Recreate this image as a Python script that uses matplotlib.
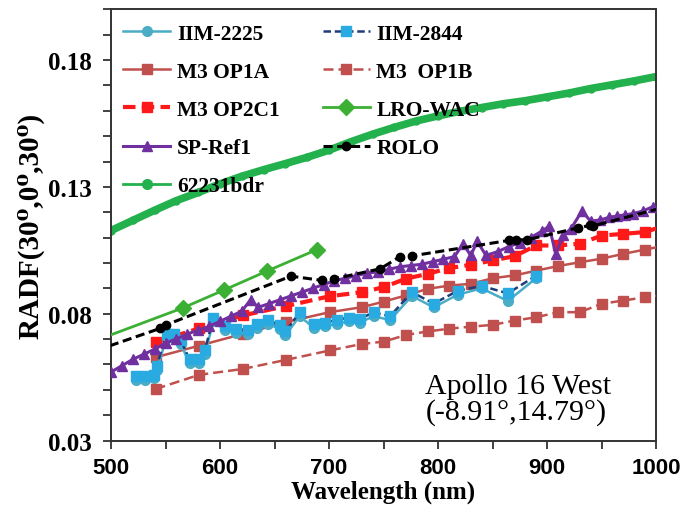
from matplotlib import pyplot as plt
from matplotlib.lines import Line2D
from matplotlib.ticker import MultipleLocator, FixedLocator

# IIM spectra (Chandrayaan-1 HySI)
iim_wl = [523, 531, 539, 542, 551, 558, 564, 572, 581, 586, 594, 605, 615, 626, 634, 644,
          655, 660, 673, 686, 696, 707, 718, 728, 741, 756, 776, 796, 818, 840, 864, 890]
iim_2225 = [0.0540, 0.0540, 0.0545, 0.0580, 0.0705, 0.0705, 0.0680, 0.0605, 0.0605, 0.0640,
            0.0770, 0.0735, 0.0725, 0.0720, 0.0745, 0.0760, 0.0740, 0.0715, 0.0790, 0.0745,
            0.0750, 0.0760, 0.0770, 0.0765, 0.0790, 0.0775, 0.0870, 0.0825, 0.0875, 0.0900,
            0.0850, 0.0940]
iim_2844 = [0.0555, 0.0555, 0.0560, 0.0595, 0.0720, 0.0720, 0.0695, 0.0620, 0.0620, 0.0655,
            0.0785, 0.0750, 0.0740, 0.0735, 0.0760, 0.0775, 0.0755, 0.0730, 0.0805, 0.0760,
            0.0765, 0.0775, 0.0785, 0.0780, 0.0805, 0.0790, 0.0885, 0.0840, 0.0890, 0.0910,
            0.0880, 0.0950]

# M3 global mode bands
m3_wl = [540.84, 580.76, 620.69, 660.61, 700.54, 730.48, 750.44, 770.40, 790.37, 810.33,
         830.29, 850.25, 870.21, 890.17, 910.14, 930.10, 950.06, 970.02, 989.98, 1009.95]
m3_op1a = [0.0628, 0.0674, 0.0720, 0.0767, 0.0806, 0.0826, 0.0848, 0.0872, 0.0898, 0.0911,
           0.0918, 0.0940, 0.0951, 0.0970, 0.0988, 0.1003, 0.1017, 0.1036, 0.1053, 0.1070]
m3_op1b = [0.0503, 0.0559, 0.0582, 0.0618, 0.0655, 0.0681, 0.0690, 0.0716, 0.0730, 0.0741,
           0.0749, 0.0756, 0.0773, 0.0786, 0.0806, 0.0806, 0.0839, 0.0852, 0.0865, 0.0875]
m3_op2c1 = [0.0688, 0.0742, 0.0793, 0.0830, 0.0869, 0.0885, 0.0905, 0.0938, 0.0957, 0.0980,
            0.0993, 0.1010, 0.1027, 0.1069, 0.1069, 0.1076, 0.1108, 0.1115, 0.1122, 0.1150]

# LRO WAC bands
wac_wl = [415, 566, 604, 643, 689]
wac = [0.0580, 0.0823, 0.0894, 0.0968, 0.1053]

# SELENE spectral profiler
sp_wl = [500, 510, 520, 530, 540, 550, 560, 570, 580, 590, 600, 610, 620, 628, 635, 645, 655,
         665, 675, 685, 695, 705, 715, 725, 735, 745, 755, 765, 775, 785, 795, 805, 815, 823,
         830, 836, 844, 855, 865, 875, 885, 895, 902, 908, 915, 922, 932, 940, 949, 957, 964,
         972, 979, 988, 997]
sp_ref1 = [0.0570, 0.0595, 0.0620, 0.0640, 0.0660, 0.0685, 0.0700, 0.0720, 0.0735, 0.0750,
           0.0770, 0.0790, 0.0810, 0.0855, 0.0825, 0.0840, 0.0855, 0.0870, 0.0885, 0.0900,
           0.0915, 0.0930, 0.0940, 0.0950, 0.0960, 0.0965, 0.0975, 0.0985, 0.0990, 0.0995,
           0.1005, 0.1015, 0.1025, 0.1075, 0.1030, 0.1085, 0.1030, 0.1045, 0.1065, 0.1080,
           0.1100, 0.1125, 0.1145, 0.1035, 0.1110, 0.1135, 0.1205, 0.1165, 0.1170, 0.1180,
           0.1185, 0.1190, 0.1195, 0.1205, 0.1222]

# ROLO bands
rolo_wl = [475, 545, 550, 665, 694, 705, 747, 765, 776, 865, 872, 882, 928, 939, 942, 1033]
rolo = [0.0638, 0.0742, 0.0755, 0.0948, 0.0931, 0.0938, 0.0977, 0.1025, 0.1028, 0.1089,
        0.1091, 0.1092, 0.1138, 0.1148, 0.1146, 0.1248]

# 62231 bidirectional reflectance
bdr_wl = [500, 520, 540, 560, 580, 600, 620, 640, 660, 680, 700, 720, 740, 760, 780, 800,
          820, 840, 860, 880, 900, 920, 940, 960, 980, 1000]
bdr = [0.1128, 0.1168, 0.1208, 0.1246, 0.1278, 0.1312, 0.1342, 0.1368, 0.1392, 0.1417,
       0.1445, 0.1478, 0.1508, 0.1535, 0.1560, 0.1580, 0.1598, 0.1613, 0.1628, 0.1640,
       0.1655, 0.1670, 0.1688, 0.1703, 0.1718, 0.1735]

SERIF = ['Liberation Serif', 'DejaVu Serif']

fig = plt.figure(figsize=(6.82, 5.10), dpi=100)
ax = fig.add_axes([0.1628, 0.1343, 0.7991, 0.8453])

ax.plot(bdr_wl, bdr, color='#22b14c', lw=5.5, marker='o', ms=5, zorder=2)
h_wac, = ax.plot(wac_wl, wac, color='#3cb034', lw=2, marker='D', ms=8, label='LRO-WAC', zorder=3)
h_op1b, = ax.plot(m3_wl, m3_op1b, color='#c0504d', lw=1.8, ls=(0, (4, 2)), marker='s', ms=7,
                  label='M3  OP1B', zorder=4)
h_op1a, = ax.plot(m3_wl, m3_op1a, color='#c0504d', lw=1.8, marker='s', ms=7, label='M3 OP1A', zorder=4)
h_op2, = ax.plot(m3_wl, m3_op2c1, color='#ff1a1a', lw=3, ls=(0, (3, 1.5)), marker='s', ms=7.5,
                 label='M3 OP2C1', zorder=5)
h_2225, = ax.plot(iim_wl, iim_2225, color='#4bacc6', lw=1.8, marker='o', ms=7, label='IIM-2225', zorder=6)
h_2844, = ax.plot(iim_wl, iim_2844, color='#1f3d7a', lw=1.8, ls=(0, (3, 1.5)), marker='s', ms=7,
                  mfc='#29abe2', mec='#29abe2', label='IIM-2844', zorder=7)
h_sp, = ax.plot(sp_wl, sp_ref1, color='#7030a0', lw=2.2, marker='^', ms=7, label='SP-Ref1', zorder=8)
h_rolo, = ax.plot(rolo_wl, rolo, color='black', lw=2.2, ls=(0, (3, 1.5)), marker='o', ms=6,
                  label='ROLO', zorder=9)
# legend entry for the thick curve is drawn thin, as in the original
h_bdr = Line2D([], [], color='#22b14c', lw=2, marker='o', ms=7, label='62231bdr')

ax.set_xlim(500, 1000)
ax.set_ylim(0.03, 0.2)
ax.xaxis.set_major_locator(FixedLocator([500, 600, 700, 800, 900, 1000]))
ax.xaxis.set_minor_locator(MultipleLocator(50))
ax.yaxis.set_major_locator(FixedLocator([0.03, 0.08, 0.13, 0.18]))
ax.yaxis.set_minor_locator(MultipleLocator(0.01))
ax.yaxis.set_major_formatter(plt.FuncFormatter(lambda v, p: '%.2f' % v))
ax.tick_params(which='both', direction='out', length=6, width=1.3, color='#333333', top=False, right=False)
ax.tick_params(axis='x', which='major', pad=6)
ax.tick_params(axis='y', which='major', pad=8)
for lab in ax.get_xticklabels():
    lab.set_family(['Liberation Sans', 'DejaVu Sans'])
    lab.set_weight('bold')
    lab.set_fontsize(16)
for lab in ax.get_yticklabels():
    lab.set_family(SERIF)
    lab.set_weight('bold')
    lab.set_fontsize(18)
for s in ax.spines.values():
    s.set_linewidth(1.4)
    s.set_color('#333333')

ax.set_xlabel('Wavelength (nm)', family=SERIF, weight='bold', fontsize=18, labelpad=1)
ax.set_ylabel('RADF(30\u2070,0\u2070,30\u2070)', family=SERIF, weight='bold', fontsize=21, labelpad=2)

ax.text(0.577, 0.037, 'Apollo 16 West\n(-8.91\u00b0,14.79\u00b0)', transform=ax.transAxes,
        family=SERIF, fontsize=21.5, linespacing=0.95, va='bottom', ha='left')

handles = [h_2225, h_op1a, h_op2, h_sp, h_bdr, h_2844, h_op1b, h_wac, h_rolo]
leg = ax.legend(handles=handles, ncol=2, loc='upper left', bbox_to_anchor=(0.022, 0.967),
                frameon=False, borderaxespad=0, borderpad=0, handlelength=2.2, handletextpad=0.3,
                columnspacing=2.0, labelspacing=0.84,
                prop={'family': SERIF, 'weight': 'bold', 'size': 15.5})

plt.savefig('out.png', dpi=100)
plt.close()
